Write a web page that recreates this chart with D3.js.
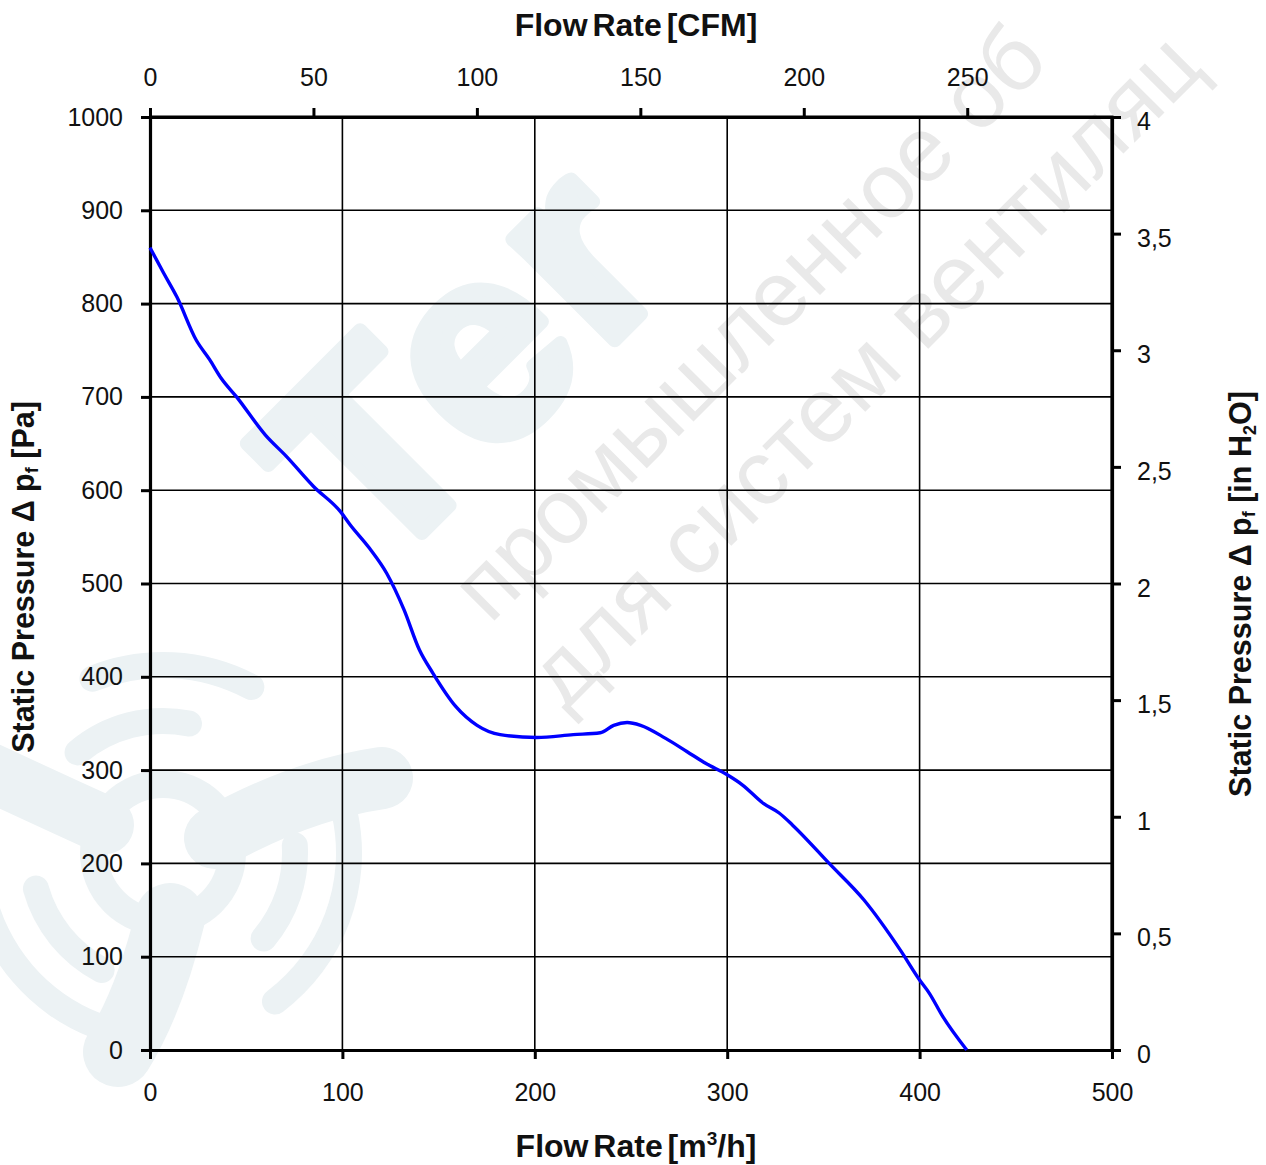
<!DOCTYPE html>
<html>
<head>
<meta charset="utf-8">
<script src="https://cdn.jsdelivr.net/npm/d3@7"></script>
<style>
  html, body { margin: 0; padding: 0; background: #fff; }
  svg { display: block; }
  text { font-family: "Liberation Sans", Arial, sans-serif; }
</style>
</head>
<body>
<svg id="chart" width="1266" height="1165"></svg>
<script>
// ---- data ----
const flowM3h = [0, 7, 14, 24, 31, 37, 45, 60, 71, 85, 99, 104, 114, 123, 132, 140, 147, 159, 170, 182, 201, 220, 234, 241, 248, 255, 268, 279, 289, 300, 308, 319, 327, 334, 353, 371, 390, 400, 405, 412, 424.5];
const pressurePa = [860, 833, 807, 761, 740, 720, 700, 659, 636, 604, 577, 563, 538, 511, 472, 429, 404, 368, 348, 338, 335, 338, 340, 348, 351, 348, 334, 320, 307, 295, 284, 264, 254, 241, 200, 161, 107, 75, 61, 36, 0];

const xTicks = [0, 100, 200, 300, 400, 500];
const yTicks = [0, 100, 200, 300, 400, 500, 600, 700, 800, 900, 1000];
const cfmTicks = [0, 50, 100, 150, 200, 250];
const inH2OTicks = [0, 0.5, 1, 1.5, 2, 2.5, 3, 3.5, 4];
const inH2OLabels = ["0", "0,5", "1", "1,5", "2", "2,5", "3", "3,5", "4"];

const M3H_PER_CFM = 1.699;

(function () {
// ---- layout ----
const pL = 150, pR = 1112, pT = 117, pB = 1050;
const svg = d3.select("#chart");

const x = d3.scaleLinear().domain([0, 500]).range([pL, pR]);
const y = d3.scaleLinear().domain([0, 1000]).range([pB, pT]);
const xCfm = d3.scaleLinear().domain([0, 500 / M3H_PER_CFM]).range([pL, pR]);
const yIn = d3.scaleLinear().domain([0, 4]).range([pB, pT]);

// ---- watermark (faint background logo) ----
const wm = svg.append("g").attr("class", "watermark");
const logoCol = "#ecf2f4";
// fan emblem, lower left
const fan = wm.append("g").attr("transform", "translate(163,853)");
fan.append("circle").attr("r", 69).attr("fill", "none").attr("stroke", logoCol).attr("stroke-width", 28);
const deg = Math.PI / 180;
const arcGen = d3.arc().cornerRadius(13);
[[132, -46, 17], [188, -26, 32], [132, 81, 136], [186, 74, 147], [132, 202, 260], [185, 197, 262]]
  .forEach(a => fan.append("path")
    .attr("d", arcGen({innerRadius: a[0] - 13, outerRadius: a[0] + 13, startAngle: a[1] * deg, endAngle: a[2] * deg}))
    .attr("fill", logoCol));
const blades = wm.append("g").attr("fill", "none").attr("stroke", logoCol).attr("stroke-linecap", "round");
blades.append("path").attr("d", "M215,838 Q300,790 382,778").attr("stroke-width", 62);
blades.append("path").attr("d", "M170,918 Q150,1000 118,1052").attr("stroke-width", 70);
blades.append("path").attr("d", "M105,825 Q50,800 -10,772").attr("stroke-width", 58);

wm.append("text")
  .attr("transform", "translate(377,578) rotate(-45)")
  .attr("font-family", "'Open Sans', 'Liberation Sans', sans-serif")
  .attr("font-weight", 800)
  .attr("font-size", 272)
  .attr("fill", logoCol)
  .attr("stroke", logoCol)
  .attr("stroke-width", 14)
  .attr("stroke-linejoin", "round")
  .attr("letter-spacing", 10)
  .text("Ter");
wm.append("text")
  .attr("transform", "translate(490,625) rotate(-45)")
  .attr("font-size", 92)
  .attr("fill", "#e9e9e9")
  .text("промышленное об");
wm.append("text")
  .attr("transform", "translate(565,712) rotate(-45)")
  .attr("font-size", 92)
  .attr("fill", "#e9e9e9")
  .text("для систем вентиляц");

// ---- grid ----
const grid = svg.append("g").attr("stroke", "#000").attr("stroke-width", 1.6);
grid.selectAll("line.v").data(xTicks.filter(d => d > 0 && d < 500)).join("line")
  .attr("class", "v")
  .attr("x1", d => x(d)).attr("x2", d => x(d)).attr("y1", pT).attr("y2", pB);
grid.selectAll("line.h").data(yTicks.filter(d => d > 0 && d < 1000)).join("line")
  .attr("class", "h")
  .attr("x1", pL).attr("x2", pR).attr("y1", d => y(d)).attr("y2", d => y(d));

// ---- axes ----
function styleAxis(g, fontSize) {
  g.select(".domain").attr("stroke", "#000").attr("stroke-width", 3.2);
  g.selectAll(".tick line").attr("stroke", "#000").attr("stroke-width", 3);
  g.selectAll(".tick text").attr("fill", "#111")
    .attr("font-family", "'Liberation Sans', Arial, sans-serif")
    .attr("font-size", fontSize);
}

const axB = d3.axisBottom(x).tickValues(xTicks).tickSizeInner(9).tickSizeOuter(0).tickPadding(24).tickFormat(d3.format("d"));
svg.append("g").attr("transform", `translate(0,${pB})`).call(axB).call(g => styleAxis(g, 25));

const axL = d3.axisLeft(y).tickValues(yTicks).tickSizeInner(9).tickSizeOuter(0).tickPadding(18).tickFormat(d3.format("d"));
svg.append("g").attr("transform", `translate(${pL},0)`).call(axL).call(g => styleAxis(g, 25));

const axT = d3.axisTop(xCfm).tickValues(cfmTicks).tickSizeInner(9).tickSizeOuter(0).tickPadding(22).tickFormat(d3.format("d"));
svg.append("g").attr("transform", `translate(0,${pT})`).call(axT).call(g => styleAxis(g, 25));

const axR = d3.axisRight(yIn).tickValues(inH2OTicks).tickSizeInner(9).tickSizeOuter(0).tickPadding(16)
  .tickFormat((d, i) => inH2OLabels[i]);
svg.append("g").attr("transform", `translate(${pR},0)`).call(axR).call(g => styleAxis(g, 25))
  .selectAll(".tick text").attr("dy", "0.5em");

// frame: top line and right line
svg.append("line").attr("x1", pL).attr("x2", pR + 1.5).attr("y1", pT).attr("y2", pT)
  .attr("stroke", "#000").attr("stroke-width", 3.2);
svg.append("line").attr("x1", pR).attr("x2", pR).attr("y1", pT).attr("y2", pB)
  .attr("stroke", "#000").attr("stroke-width", 3.2);

// ---- curve ----
const pts = flowM3h.map((f, i) => [f, pressurePa[i]]);
const line = d3.line().x(d => x(d[0])).y(d => y(d[1])).curve(d3.curveMonotoneX);
svg.append("path").datum(pts)
  .attr("d", line)
  .attr("fill", "none")
  .attr("stroke", "#0000ff")
  .attr("stroke-width", 3.4)
  .attr("stroke-linejoin", "round");

// ---- titles ----
const titleFont = "'Liberation Sans', Arial, sans-serif";
svg.append("text").attr("x", 636).attr("y", 36).attr("text-anchor", "middle")
  .attr("font-family", titleFont).attr("font-weight", "bold").attr("font-size", 32)
  .attr("word-spacing", -4).attr("fill", "#111")
  .text("Flow Rate [CFM]");

const bt = svg.append("text").attr("x", 636).attr("y", 1157).attr("text-anchor", "middle")
  .attr("font-family", titleFont).attr("font-weight", "bold").attr("font-size", 32)
  .attr("word-spacing", -4).attr("fill", "#111");
bt.append("tspan").text("Flow Rate [m");
bt.append("tspan").attr("font-size", 19).attr("dy", -12).text("3");
bt.append("tspan").attr("dy", 12).text("/h]");

const lt = svg.append("text").attr("transform", "translate(34,577) rotate(-90)")
  .attr("text-anchor", "middle").attr("font-family", titleFont).attr("font-weight", "bold")
  .attr("font-size", 30.5).attr("fill", "#111");
lt.append("tspan").text("Static Pressure Δ p");
lt.append("tspan").attr("font-size", 18).attr("dy", 4).text("f");
lt.append("tspan").attr("dy", -4).text(" [Pa]");

const rt = svg.append("text").attr("transform", "translate(1251,594) rotate(-90)")
  .attr("text-anchor", "middle").attr("font-family", titleFont).attr("font-weight", "bold")
  .attr("font-size", 30.5).attr("fill", "#111");
rt.append("tspan").text("Static Pressure Δ p");
rt.append("tspan").attr("font-size", 18).attr("dy", 4).text("f");
rt.append("tspan").attr("dy", -4).text(" [in H");
rt.append("tspan").attr("font-size", 18).attr("dy", 5).text("2");
rt.append("tspan").attr("dy", -5).text("O]");
})();
</script>
</body>
</html>
